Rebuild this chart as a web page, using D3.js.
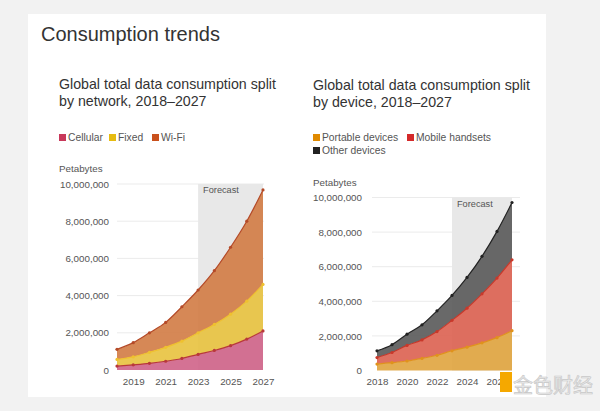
<!DOCTYPE html>
<html><head><meta charset="utf-8">
<script src="https://cdn.jsdelivr.net/npm/d3@7"></script>
<style>
html,body{margin:0;padding:0;background:#f2f2f2;}
svg{display:block;font-family:"Liberation Sans",Arial,Helvetica,sans-serif;}
</style></head>
<body><svg id="c" width="600" height="411"></svg>
<script>
// ---------- data ----------
const years = [2018,2019,2020,2021,2022,2023,2024,2025,2026,2027];
const cellular = [210000,280000,360000,470000,620000,840000,1050000,1310000,1660000,2100000];
const fixed    = [360000,430000,590000,750000,930000,1160000,1400000,1690000,2040000,2500000];
const wifi     = [540000,760000,1050000,1340000,1850000,2300000,2890000,3600000,4300000,5080000];
const portable = [370000,450000,550000,700000,880000,1140000,1350000,1600000,1900000,2300000];
const mobile   = [380000,590000,900000,1070000,1370000,1760000,2250000,2830000,3440000,4100000];
const other    = [390000,450000,650000,870000,1200000,1440000,1780000,2170000,2700000,3310000];
const yTicks = [0,2000000,4000000,6000000,8000000,10000000];
const leftXTicks = [2019,2021,2023,2025,2027];
const rightXTicks = [2018,2020,2022,2024,2026];
const forecastStart = 2023, forecastEnd = 2027;

const svg = d3.select("#c");
// card
svg.append("rect").attr("x",28).attr("y",14).attr("width",518).attr("height",383).attr("fill","#fff");
svg.append("text").attr("x",41).attr("y",41).attr("font-size",20).attr("fill","#333").text("Consumption trends");

function chart(o){
  const g = svg.append("g");
  o.title.forEach((t,i)=>g.append("text").attr("x",o.x0).attr("y",o.titleY+i*17)
    .attr("font-size",14.2).attr("fill","#333").text(t));
  // legend
  o.legend.forEach(l=>{
    g.append("rect").attr("x",l.x).attr("y",l.y-7).attr("width",7).attr("height",7).attr("fill",l.color);
    g.append("text").attr("x",l.x+9).attr("y",l.y).attr("font-size",10.3).attr("fill","#555").text(l.label);
  });
  g.append("text").attr("x",o.x0).attr("y",o.petaY).attr("font-size",9.8).attr("fill","#555").text("Petabytes");

  const x = d3.scaleLinear().domain([2018,2027]).range(o.xr);
  const y = d3.scaleLinear().domain([0,10000000]).range(o.yr);
  // grid
  g.selectAll(".grid").data(yTicks.slice(1)).join("line")
    .attr("x1",o.gridX[0]).attr("x2",o.gridX[1]).attr("y1",d=>y(d)).attr("y2",d=>y(d))
    .attr("stroke","#ebebeb").attr("stroke-width",1);
  // forecast band
  g.append("rect").attr("x",x(forecastStart)).attr("y",y(10000000))
    .attr("width",x(forecastEnd)-x(forecastStart)).attr("height",y(0)-y(10000000)).attr("fill","#e8e8e8");
  g.append("text").attr("x",x(forecastStart)+5).attr("y",y(10000000)+9).attr("font-size",9.2).attr("fill","#555").text("Forecast");

  // stack
  const rows = years.map((yr,i)=>{const r={year:yr}; o.series.forEach(s=>r[s.key]=s.values[i]); return r;});
  const stack = d3.stack().keys(o.series.map(s=>s.key))(rows);
  const area = d3.area().x(d=>x(d.data.year)).y0(d=>y(d[0])).y1(d=>y(d[1])).curve(d3.curveMonotoneX);
  const line = d3.line().x(d=>x(d.data.year)).y(d=>y(d[1])).curve(d3.curveMonotoneX);
  stack.forEach((layer,i)=>{
    g.append("path").datum(layer).attr("d",area).attr("fill",o.series[i].fill).attr("fill-opacity",0.9);
  });
  stack.forEach((layer,i)=>{
    g.append("path").datum(layer).attr("d",line).attr("fill","none").attr("stroke",o.series[i].line).attr("stroke-width",1.2);
    g.selectAll(null).data(layer).join("circle").attr("cx",d=>x(d.data.year)).attr("cy",d=>y(d[1]))
      .attr("r",1.6).attr("fill",o.series[i].line);
  });

  // axes
  const ya = g.append("g").attr("transform",`translate(${o.yLabelX},0)`)
    .call(d3.axisLeft(y).tickValues(yTicks).tickFormat(d3.format(",")).tickSize(0).tickPadding(0));
  ya.select(".domain").remove();
  ya.selectAll("text").attr("font-size",9.8).attr("fill","#555").attr("font-family","Liberation Sans, Arial, sans-serif");
  const xa = g.append("g").attr("transform",`translate(0,${o.yr[0]})`)
    .call(d3.axisBottom(x).tickValues(o.xTicks).tickFormat(d3.format("d")).tickSize(0).tickPadding(8));
  xa.select(".domain").remove();
  xa.selectAll("text").attr("font-size",9.8).attr("fill","#555").attr("font-family","Liberation Sans, Arial, sans-serif");
}

chart({
  x0:59, titleY:89, title:["Global total data consumption split","by network, 2018\u20132027"],
  legend:[{x:59,y:141,color:"#c8385a",label:"Cellular"},{x:109,y:141,color:"#e6bb10",label:"Fixed"},{x:152,y:141,color:"#c9501c",label:"Wi-Fi"}],
  petaY:172, xr:[117,263], yr:[370,184], gridX:[117,264], yLabelX:109, xTicks:leftXTicks,
  series:[
    {key:"Cellular",values:cellular,fill:"#cf6388",line:"#b8383a"},
    {key:"Fixed",values:fixed,fill:"#e8c23e",line:"#efc12f"},
    {key:"Wi-Fi",values:wifi,fill:"#d27b44",line:"#b44a28"}
  ]
});
chart({
  x0:313, titleY:90, title:["Global total data consumption split","by device, 2018\u20132027"],
  legend:[{x:313,y:141,color:"#e08a00",label:"Portable devices"},{x:407,y:141,color:"#d42a2a",label:"Mobile handsets"},{x:313,y:154,color:"#222",label:"Other devices"}],
  petaY:186, xr:[377,512], yr:[370.5,197.5], gridX:[372,520], yLabelX:362, xTicks:rightXTicks,
  series:[
    {key:"Portable devices",values:portable,fill:"#e0a43e",line:"#e0921c"},
    {key:"Mobile handsets",values:mobile,fill:"#dc6150",line:"#c8382a"},
    {key:"Other devices",values:other,fill:"#595959",line:"#222"}
  ]
});

// watermark
const wm = svg.append("g");
wm.append("rect").attr("x",500).attr("y",372).attr("width",12).attr("height",20).attr("fill","#f5a800");
wm.append("text").attr("x",513).attr("y",393).attr("font-size",20).attr("fill","#ececec")
  .attr("stroke","#c8c8c8").attr("stroke-width",0.7).attr("font-family","Noto Sans CJK SC").text("金色财经");
</script></body></html>
